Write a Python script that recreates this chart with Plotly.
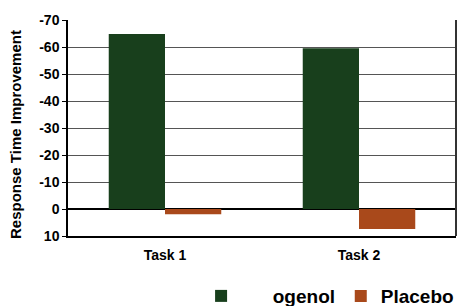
import plotly.graph_objects as go

categories = ["Task 1", "Task 2"]
series_names = ["\u00a0\u00a0\u00a0\u00a0\u00a0\u00a0ogenol", "Placebo"]
drug_values = [-64.8, -59.5]
placebo_values = [1.9, 7.4]
y_tick_values = [-70, -60, -50, -40, -30, -20, -10, 0, 10]
y_tick_labels = ["-70", "-60", "-50", "-40", "-30", "-20", "-10", "0", "10"]
y_title = "Response Time Improvement"

green = "#183f1c"
orange = "#a9491b"

fig = go.Figure()
fig.add_trace(go.Bar(x=categories, y=drug_values, name=series_names[0],
                     marker=dict(color=green, line=dict(width=0)), legend="legend"))
fig.add_trace(go.Bar(x=categories, y=placebo_values, name=series_names[1],
                     marker=dict(color=orange, line=dict(width=0)), legend="legend2"))

font_family = "Liberation Sans, Arial, sans-serif"
legend_font = dict(size=19, family=font_family, color="black", weight="bold")

fig.update_layout(
    width=458, height=306,
    margin=dict(l=68, r=2, t=20, b=70, autoexpand=False),
    paper_bgcolor="white", plot_bgcolor="white",
    barmode="group", bargap=0.42, bargroupgap=0,
    font=dict(family=font_family, color="black"),
    showlegend=True, hovermode=False,
    legend=dict(orientation="h", x=0.343, xanchor="left", y=-0.278, yanchor="middle",
                font=legend_font, bgcolor="rgba(0,0,0,0)"),
    legend2=dict(orientation="h", x=0.703, xanchor="left", y=-0.278, yanchor="middle",
                 font=legend_font, bgcolor="rgba(0,0,0,0)"),
    xaxis=dict(showgrid=False, showline=True, linecolor="black", linewidth=1.5,
               mirror=False, ticks="", automargin=False, ticklabelstandoff=5,
               tickfont=dict(size=14, family=font_family, weight="bold"),
               fixedrange=True),
    yaxis=dict(range=[10, -70], autorange=False, automargin=False, fixedrange=True,
               tickvals=y_tick_values, ticktext=y_tick_labels,
               showgrid=True, gridcolor="#555555", gridwidth=1,
               zeroline=True, zerolinecolor="black", zerolinewidth=1.5,
               showline=True, linecolor="black", linewidth=1.5, mirror=False,
               ticks="outside", ticklen=4, tickcolor="black",
               tickfont=dict(size=14, family=font_family, weight="bold")),
    annotations=[dict(text=y_title, xref="paper", yref="paper",
                      x=-0.134, y=0.4676, xanchor="center", yanchor="middle",
                      textangle=-90, showarrow=False,
                      font=dict(size=15, family=font_family, color="black", weight="bold"))],
    shapes=[dict(type="line", xref="paper", yref="paper", x0=1, x1=1, y0=0, y1=1,
                 line=dict(color="#333333", width=2))],
)

fig.write_html(
    "out.html",
    config={"displayModeBar": False},
    post_script="document.body.style.margin='0';document.body.style.overflow='hidden';",
)
